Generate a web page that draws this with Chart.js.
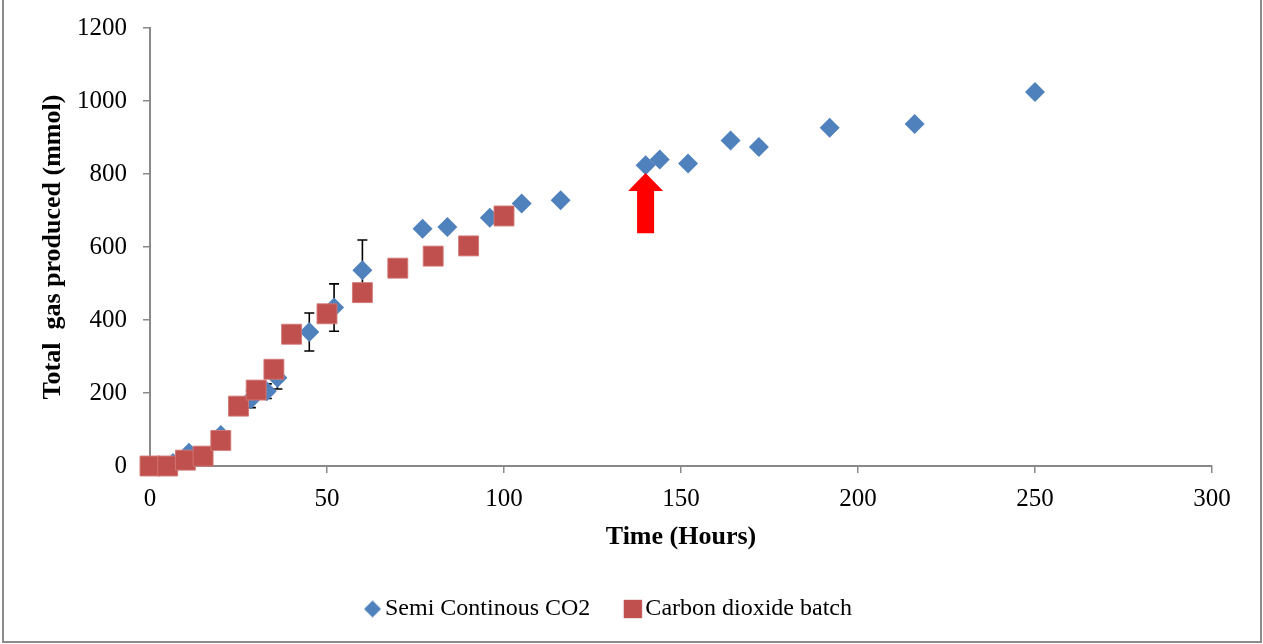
<!DOCTYPE html>
<html>
<head>
<meta charset="utf-8">
<title>Total gas produced</title>
<script src="https://cdn.jsdelivr.net/npm/chart.js@4.4.1/dist/chart.umd.min.js"></script>
<style>
  html, body { margin: 0; padding: 0; background: #fff; overflow: hidden; }
  #wrap { position: relative; width: 1263px; height: 644px; }
  #chart { position: absolute; left: 0; top: 0; }
  #frame {
    position: absolute; left: 2px; top: -2px; width: 1260px; height: 645px;
    border: 2px solid #8a8a8a; box-sizing: border-box; pointer-events: none;
  }
</style>
</head>
<body>
<div id="wrap">
  <canvas id="chart" width="1263" height="644"></canvas>
  <div id="frame"></div>
</div>
<script>
const FONT = "'Liberation Serif', 'Times New Roman', serif";
const BLUE = "#4F81BD";
const RED = "#C0504D";
const AXIS = "#898989";

// semi continuous run (hours, mmol, +/- error)
const semiHours = [0, 6.5, 11, 20, 28.5, 33, 36, 45, 52, 60, 77, 84, 96, 105, 116, 140, 144, 152, 164, 172, 192, 216, 250];
const semiGas   = [0, 8, 36, 85, 183, 205, 242, 367, 434, 536, 650, 655, 680, 719, 728, 824, 840, 829, 892, 874, 927, 937, 1025];
const semiErr   = [0, 0, 0, 0, 23, 20, 31, 52, 65, 83, 0, 0, 0, 0, 0, 0, 0, 0, 0, 0, 0, 0, 0];

// batch run
const batchHours = [0, 5, 10, 15, 20, 25, 30, 35, 40, 50, 60, 70, 80, 90, 100];
const batchGas   = [0, 0, 16, 27, 70, 164, 208, 265, 361, 417, 475, 542, 575, 603, 685];

const xTicks = [0, 50, 100, 150, 200, 250, 300];
const yTicks = [0, 200, 400, 600, 800, 1000, 1200];

// red arrow: where feeding switched (hour, from mmol, to mmol)
const arrowHour = 140;
const arrowFrom = 638;
const arrowTo = 803;

const seriesNames = ["Semi Continous CO2", "Carbon dioxide batch"];

const el = (id) => document.getElementById(id);
const toPoints = (xs, ys) => xs.map((x, i) => ({ x, y: ys[i] }));

// small canvas icons for the legend
function makeIcon(style, radius, color) {
  const size = Math.ceil(radius * 2) + 2;
  const c = document.createElement("canvas");
  c.width = size; c.height = size;
  const g = c.getContext("2d");
  g.fillStyle = color;
  Chart.helpers.drawPoint(g, { pointStyle: style, radius, borderWidth: 0, rotation: 0 }, size / 2, size / 2);
  return c;
}

const errorBars = {
  id: "errorBars",
  beforeDatasetDraw(chart, args) {
    if (args.index !== 0) return;
    const { ctx, scales: { x, y } } = chart;
    ctx.save();
    ctx.strokeStyle = "#000";
    ctx.lineWidth = 1.6;
    semiErr.forEach((e, i) => {
      if (!e) return;
      const px = x.getPixelForValue(semiHours[i]);
      const top = y.getPixelForValue(semiGas[i] + e);
      const bot = y.getPixelForValue(semiGas[i] - e);
      ctx.beginPath();
      ctx.moveTo(px, top); ctx.lineTo(px, bot);
      ctx.moveTo(px - 5, top); ctx.lineTo(px + 5, top);
      ctx.moveTo(px - 5, bot); ctx.lineTo(px + 5, bot);
      ctx.stroke();
    });
    ctx.restore();
  },
};

const arrowMark = {
  id: "arrowMark",
  afterDatasetsDraw(chart) {
    const { ctx, scales: { x, y } } = chart;
    const cx = x.getPixelForValue(arrowHour);
    const tip = y.getPixelForValue(arrowTo);
    const base = y.getPixelForValue(arrowFrom);
    const neck = tip + 18;
    ctx.save();
    ctx.fillStyle = "#FF0000";
    ctx.beginPath();
    ctx.moveTo(cx, tip);
    ctx.lineTo(cx + 17.5, neck);
    ctx.lineTo(cx + 8.5, neck);
    ctx.lineTo(cx + 8.5, base);
    ctx.lineTo(cx - 8.5, base);
    ctx.lineTo(cx - 8.5, neck);
    ctx.lineTo(cx - 17.5, neck);
    ctx.closePath();
    ctx.fill();
    ctx.restore();
  },
};

// centre the legend on the whole frame rather than the padded box
const legendShift = {
  id: "legendShift",
  afterLayout(chart) {
    chart.legend.left += 6;
    chart.legend.right += 6;
  },
};

Chart.defaults.font.family = FONT;
Chart.defaults.color = "#000";

const icons = [makeIcon("rectRot", 8.5, BLUE), makeIcon("rect", 13, RED)];

new Chart(el("chart").getContext("2d"), {
  type: "scatter",
  data: {
    datasets: [
      {
        label: seriesNames[0],
        data: toPoints(semiHours, semiGas),
        pointStyle: "rectRot",
        pointRadius: 10,
        pointBackgroundColor: BLUE,
        pointBorderWidth: 0,
        order: 1,
        clip: false,
      },
      {
        label: seriesNames[1],
        data: toPoints(batchHours, batchGas),
        pointStyle: "rect",
        pointRadius: 14.1,
        pointBackgroundColor: RED,
        pointBorderColor: "rgba(210,120,118,0.9)",
        pointBorderWidth: 1,
        order: 0,
        clip: false,
      },
    ],
  },
  options: {
    responsive: false,
    animation: false,
    events: [],
    layout: { padding: { left: 0, right: 51, top: 28, bottom: 13 } },
    scales: {
      x: {
        type: "linear",
        min: xTicks[0],
        max: xTicks[xTicks.length - 1],
        afterBuildTicks: (s) => { s.ticks = xTicks.map((v) => ({ value: v })); },
        ticks: { font: { size: 25 }, padding: 11, color: "#000", callback: (v) => String(v) },
        grid: { drawOnChartArea: false, drawTicks: true, tickLength: 7, color: AXIS, lineWidth: 1.5 },
        border: { color: AXIS, width: 2 },
        title: {
          display: true,
          text: "Time (Hours)",
          color: "#000",
          font: { size: 26, weight: "bold" },
          padding: { top: 0, bottom: 2 },
        },
        afterFit: (s) => { s.height = 89; },
      },
      y: {
        type: "linear",
        min: yTicks[0],
        max: yTicks[yTicks.length - 1],
        afterBuildTicks: (s) => { s.ticks = yTicks.map((v) => ({ value: v })); },
        ticks: { font: { size: 25, lineHeight: 0.9 }, padding: 16, color: "#000", callback: (v) => String(v) },
        grid: { drawOnChartArea: false, drawTicks: true, tickLength: 7, color: AXIS, lineWidth: 1.5 },
        border: { color: AXIS, width: 2 },
        title: {
          display: true,
          text: "Total  gas produced (mmol)",
          color: "#000",
          font: { size: 26, weight: "bold" },
          padding: { top: 38, bottom: 0 },
        },
        afterFit: (s) => { s.width = 150; },
      },
    },
    plugins: {
      tooltip: { enabled: false },
      legend: {
        position: "bottom",
        labels: {
          usePointStyle: true,
          boxWidth: 1,
          padding: 42,
          color: "#000",
          font: { size: 24 },
          generateLabels: (chart) => seriesNames.map((name, i) => ({
            text: name,
            pointStyle: icons[i],
            fillStyle: i === 0 ? BLUE : RED,
            strokeStyle: "transparent",
            lineWidth: 0,
            hidden: false,
            datasetIndex: i,
            fontColor: "#000",
          })),
        },
      },
    },
  },
  plugins: [errorBars, arrowMark, legendShift],
});
</script>
</body>
</html>
